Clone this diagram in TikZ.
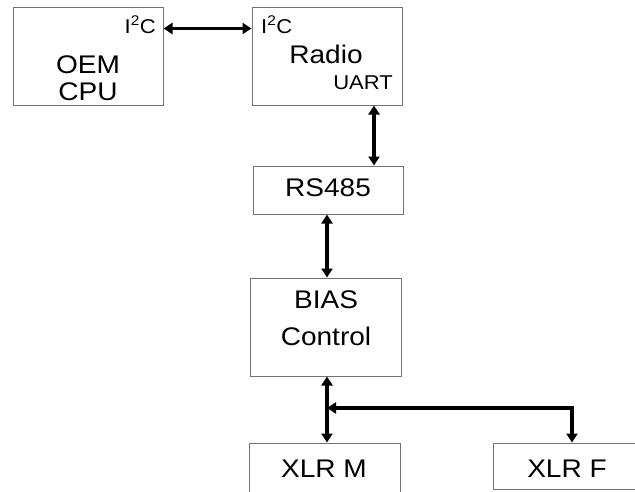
\documentclass[tikz,border=0pt]{standalone}
\usepackage{fontspec}
\setmainfont[FakeStretch=1.1]{Liberation Sans}
\usetikzlibrary{arrows.meta,positioning,calc}

\begin{document}
\begin{tikzpicture}[x=1pt,y=-1pt,
	blk/.style={draw=black!55,line width=1pt,rectangle,inner sep=0pt},
	big/.style={font=\fontsize{25.5}{28}\selectfont,inner sep=0pt},
	small/.style={font=\fontsize{20}{24}\selectfont,inner sep=0pt},
	link/.style={{Triangle[length=9pt,width=11pt]}-{Triangle[length=9pt,width=11pt]},line width=3.4pt}]
	\clip (0,0) rectangle (635,491);
	\fill[white] (0,0) rectangle (635,491);
	% blocks
	\node[blk,minimum width=150pt,minimum height=98pt] (oem) at (88,56) {};
	\node[blk,minimum width=150pt,minimum height=98pt] (radio) at (327,56) {};
	\node[blk,minimum width=150pt,minimum height=48pt] (rs) at (328,190) {};
	\node[blk,minimum width=151pt,minimum height=98pt] (bias) at (325.5,327) {};
	\node[blk,minimum width=151pt,minimum height=60pt] (xlrm) at (324.5,473) {};
	\node[blk,minimum width=158pt,minimum height=46pt] (xlrf) at (572,466) {};
	% texts
	\node[big,anchor=base] (oemt) at (88,73) {OEM};
	\node[big,anchor=base] (cput) at (88,100) {CPU};
	\node[small,anchor=base east] (i2ca) at (156,33) {I\textsuperscript{2}C};
	\node[small,anchor=base west] (i2cb) at (261,33) {I\textsuperscript{2}C};
	\node[big,anchor=base] (radiot) at (326,63) {Radio};
	\node[small,anchor=base east] (uart) at (393,89) {UART};
	\node[big,anchor=base] (rst) at (328,196) {RS485};
	\node[big,anchor=base] (biast) at (326,308) {BIAS};
	\node[big,anchor=base] (ctrlt) at (326,345) {Control};
	\node[big,anchor=base] (xlrmt) at (324,477) {XLR M};
	\node[big,anchor=base] (xlrft) at (567,477) {XLR F};
	% links
	\coordinate (c1) at (374,0);
	\coordinate (c2) at (327,0);
	\coordinate (j) at (327,408);
	\draw[link] ($(oem.north east)+(0,22)$) -- ($(radio.north west)+(0,22)$);
	\draw[link] (radio.south -| c1) -- (rs.north -| c1);
	\draw[link] (rs.south -| c2) -- (bias.north -| c2);
	\draw[link] (bias.south -| c2) -- (xlrm.north -| c2);
	\draw[link] (j) -- (j -| xlrf.north) -- (xlrf.north);
\end{tikzpicture}
\end{document}
